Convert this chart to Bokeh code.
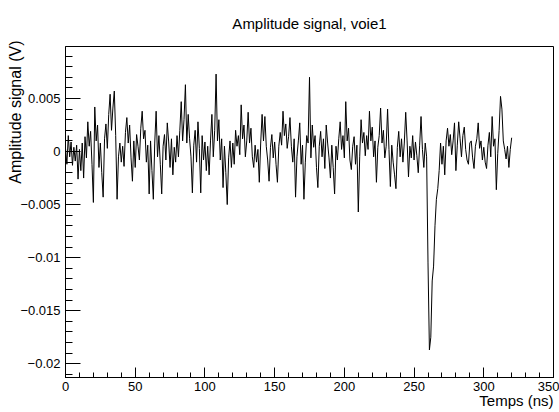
from bokeh.plotting import figure
from bokeh.models import FixedTicker, Range1d, Title
from bokeh.embed import file_html
from bokeh.resources import INLINE

# ---- data ----
temps_ns = list(range(0, 321))
amplitude_mv = [
    0.3, -1.2, 1.5, -0.5, 0.9, -1.3, 0.4, -0.9, 0.6, -2.6,
    0.2, -1.8, 0.8, -2.5, 1.4, -0.6, 2.8, 0.5, 1.9, -1.2,
    -4.8, 4.2, 1.0, 2.5, -1.5, 0.8, -2.0, -4.3, 1.2, 2.6,
    0.3, 3.5, 5.4, 2.0, 4.1, 5.7, 1.5, -4.5, -0.5, 0.8,
    -1.0, 0.5, -1.4, 1.8, 3.2, 0.8, 2.5, -0.6, -2.8, 1.0,
    -1.5, 1.6, 0.5, -0.8, 2.2, 3.8, 1.2, 2.0, -1.0, 0.6,
    -4.0, 1.0, -1.8, -4.5, 0.8, 3.8, -0.5, 1.5, -1.2, -4.0,
    0.5, 1.6, -0.8, 2.7, 0.9, -1.5, 1.2, -2.2, 0.4, -1.0,
    1.5, -0.5, 2.0, 4.7, 1.0, 3.0, 6.3, 0.8, 3.5, 1.2,
    -0.5, -3.9, 0.6, 2.0, -1.0, 2.8, 0.3, -3.9, 1.5, -0.8,
    0.9, -1.8, 0.5, -2.2, 1.0, 3.5, -0.5, 2.0, 7.3, 1.0,
    3.0, -0.8, 1.2, -3.4, 0.5, -2.0, -5.0, -0.6, 1.0, -1.5,
    0.8, -1.2, 2.0, 0.5, 1.5, -0.3, 4.4, 1.2, 2.5, -0.5,
    1.0, 3.7, 0.8, 2.2, -0.5, -1.5, 0.6, -1.0, 0.2, -2.9,
    0.8, 3.5, 1.0, 3.3, 0.5, -0.8, -2.8, 0.4, 1.6, -0.6,
    0.9, -1.2, -2.9, 0.5, 1.8, 0.6, 3.8, 1.5, 2.6, 0.3,
    1.4, 3.2, 0.5, -1.0, 1.2, -4.3, -0.5, 1.0, 2.7, -1.2,
    0.6, -4.5, -1.0, 1.5, 0.8, 7.0, -0.6, 2.5, 0.4, 1.5,
    -1.5, -3.4, 0.5, 1.9, -0.5, 1.2, -1.6, 2.5, 0.8, -0.6,
    -2.5, 0.6, -1.5, -4.0, 0.5, -0.8, 1.2, 2.8, 0.2, 1.5,
    -0.6, 4.7, 1.0, 2.2, -0.8, -1.7, 0.5, 1.4, -1.2, 0.6,
    -5.7, -0.5, 3.0, 0.8, 1.8, -0.4, 1.5, 0.2, 3.8, 1.0,
    2.3, -0.5, 1.0, -2.9, 0.4, 1.5, 4.1, 0.8, 2.0, -0.6,
    0.5, 4.0, 0.2, -3.3, 0.6, -1.0, -2.2, -3.5, 0.4, 1.9,
    -0.5, 1.2, -1.0, 0.8, 3.7, 1.0, -2.4, 0.5, -0.6, 1.5,
    -0.8, 0.9, -0.4, -2.0, 0.6, 3.3, 0.2, -1.5, 0.8, -0.5,
    -10.5, -18.7, -17.5, -12.2, -10.8, -7.0, -4.5, -3.5, -1.8, 0.8,
    -1.2, 0.5, -2.2, 1.0, 2.2, 0.5, 1.6, -0.3, 1.0, 2.7,
    -1.8, 0.6, 2.8, 1.2, -0.5, 1.5, 2.3, 0.2, -0.8, -1.2,
    0.8, 1.0, -0.6, -1.6, 0.5, 1.2, 2.7, 0.3, 1.0, -0.8,
    0.4, -1.0, -1.6, 0.6, 1.8, -0.5, 3.3, 0.5, 1.2, -3.6,
    -0.2, 2.0, 5.2, 4.0, 1.0, 0.2, -0.7, 0.5, -1.5, 0.2, 1.3,
]
amplitude_v = [v * 1e-3 for v in amplitude_mv]

x_ticks = [0, 50, 100, 150, 200, 250, 300, 350]
y_ticks = [-0.02, -0.015, -0.01, -0.005, 0.0, 0.005]
y_tick_labels = ["\u22120.02", "\u22120.015", "\u22120.01", "\u22120.005", "0", "0.005"]

title_text = "Amplitude signal, voie1"
x_label = "Temps (ns)"
y_label = "Amplitude signal (V)"

FONT = "Liberation Sans"

p = figure(width=559, height=412, output_backend="svg", toolbar_location=None,
           x_range=Range1d(0, 350), y_range=Range1d(-0.0213, 0.0099),
           title=title_text,
           min_border_left=65, min_border_right=6, min_border_top=46,
           min_border_bottom=35)

p.line(temps_ns, amplitude_v, line_color="black", line_width=1)

# title
p.title.text_font = FONT
p.title.text_font_size = "15px"
p.title.text_font_style = "normal"
p.title.align = "center"
p.title.vertical_align = "top"
p.title.standoff = 26
p.title.text_color = "black"

# grid and frame
p.xgrid.visible = False
p.ygrid.visible = False
p.outline_line_color = "black"
p.outline_line_width = 1
p.background_fill_color = "white"
p.border_fill_color = "white"

# x axis
xa = p.xaxis[0]
xa.ticker = FixedTicker(ticks=x_ticks, minor_ticks=list(range(0, 351, 10)))
xa.major_tick_in = 10
xa.major_tick_out = 0
xa.minor_tick_in = 5
xa.minor_tick_out = 0
xa.major_label_standoff = 4
xa.major_label_text_font = FONT
xa.major_label_text_font_size = "13px"
xa.major_label_text_color = "black"
xa.axis_line_color = "black"
xa.major_tick_line_color = "black"
xa.minor_tick_line_color = "black"

# y axis
ya = p.yaxis[0]
minor_y = [round(-0.021 + i * 0.001, 3) for i in range(31)]
ya.ticker = FixedTicker(ticks=y_ticks, minor_ticks=minor_y)
ya.major_label_overrides = {t: s for t, s in zip(y_ticks, y_tick_labels)}
ya.major_tick_in = 15
ya.major_tick_out = 0
ya.minor_tick_in = 7
ya.minor_tick_out = 0
ya.major_label_standoff = 5
ya.major_label_text_font = FONT
ya.major_label_text_font_size = "13px"
ya.major_label_text_color = "black"
ya.axis_line_color = "black"
ya.major_tick_line_color = "black"
ya.minor_tick_line_color = "black"

# axis titles, ROOT style: placed at the far end of each axis
xt = Title(text=x_label, align="right", vertical_align="top",
           text_font=FONT, text_font_size="15px", text_font_style="normal",
           text_color="black")
yt = Title(text=y_label, align="right", vertical_align="bottom",
           text_font=FONT, text_font_size="16px", text_font_style="normal",
           text_color="black")
try:
    xt.standoff = -4
except Exception:
    xt.standoff = 0
try:
    yt.standoff = -13
    yt.offset = -6
except Exception:
    yt.standoff = 0
p.add_layout(xt, "below")
p.add_layout(yt, "left")

open("out.html", "w").write(file_html(p, INLINE))
